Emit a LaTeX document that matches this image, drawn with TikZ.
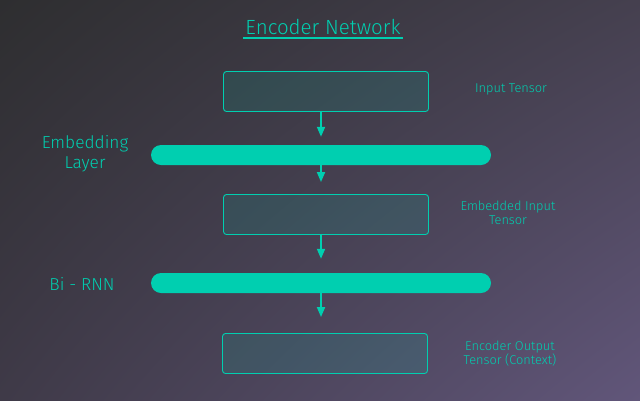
\documentclass[tikz,border=0pt]{standalone}
\usepackage{fontspec}
\setmainfont{Fira Sans}[UprightFont=* Light]
\usetikzlibrary{arrows.meta,shadings}
\definecolor{tl}{HTML}{00CFB0}
\definecolor{bgA}{HTML}{2E2E30}
\definecolor{bgB}{HTML}{45404F}
\definecolor{bgC}{HTML}{3F3A48}
\definecolor{bgD}{HTML}{61567A}
\begin{document}
\begin{tikzpicture}[x=1pt,y=-1pt,
  tensor/.style={draw=tl,line width=0.9pt,fill=tl,fill opacity=0.12,text opacity=1,rounded corners=3pt,minimum width=205pt,minimum height=40pt,inner sep=0pt},
  layerbar/.style={fill=tl,rounded corners=10pt,minimum width=340pt,minimum height=20pt,inner sep=0pt},
  arr/.style={tl,line width=1.8pt,-{Triangle[length=10pt,width=8pt]}},
  small/.style={text=tl,font=\fontsize{12.8}{14}\selectfont,align=center},
  big/.style={text=tl,font=\fontsize{17.3}{20}\selectfont,align=center}]
\shade[upper left=bgA,upper right=bgB,lower left=bgC,lower right=bgD] (0,0) rectangle (640,400);
\useasboundingbox (0,0) rectangle (640,400);
\node[text=tl,font=\fontsize{20.5}{22}\selectfont] (title) at (323,27) {Encoder Network};
\draw[tl,line width=1.3pt] (243,38) -- (403,38);
\node[tensor] (b1) at (326,91.5) {};
\node[layerbar] (bar1) at (321,155) {};
\node[tensor] (b2) at (326,214.5) {};
\node[layerbar] (bar2) at (321,283) {};
\node[tensor] (b3) at (325,353.5) {};
\coordinate (ax) at (321,0);
\draw[arr,shorten >=8pt] (b1.south -| ax) -- (bar1.north -| ax);
\draw[arr,shorten >=12pt] (bar1.south -| ax) -- (b2.north -| ax);
\draw[arr,shorten >=14pt] (b2.south -| ax) -- (bar2.north -| ax);
\draw[arr,shorten >=16pt] (bar2.south -| ax) -- (b3.north -| ax);
\node[small] (l1) at (511,89) {Input Tensor};
\node[small] (l2) at (508,213) {Embedded Input\\Tensor};
\node[small] (l3) at (510,354) {Encoder Output\\Tensor (Context)};
\node[big] (l4) at (85,154) {Embedding\\Layer};
\node[big] (l5) at (82,284) {Bi - RNN};
\end{tikzpicture}
\end{document}
